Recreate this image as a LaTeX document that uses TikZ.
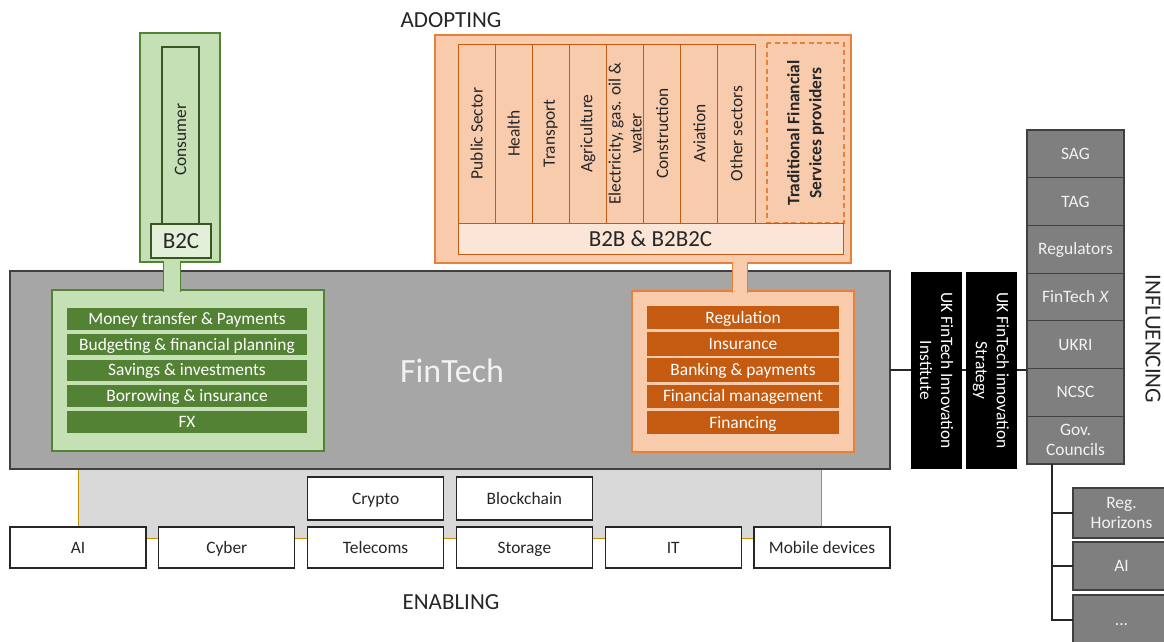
\documentclass[tikz,border=0pt]{standalone}
\usepackage{fontspec}
\setmainfont{Carlito}
\usetikzlibrary{positioning}

\definecolor{ftgray}{HTML}{A6A6A6}
\definecolor{platgray}{HTML}{D9D9D9}
\definecolor{cellgray}{HTML}{7F7F7F}
\definecolor{edgegray}{HTML}{404040}
\definecolor{platgold}{HTML}{BF9000}
\definecolor{lightgreen}{HTML}{C5E0B4}
\definecolor{palegreen}{HTML}{E2F0D9}
\definecolor{darkgreen}{HTML}{548235}
\definecolor{deepgreen}{HTML}{385723}
\definecolor{lightorange}{HTML}{F8CBAD}
\definecolor{paleorange}{HTML}{FBE5D6}
\definecolor{midorange}{HTML}{E9803A}
\definecolor{darkorange}{HTML}{C55A11}

\tikzset{
    box/.style={rectangle, inner sep=0pt, outer sep=0pt, anchor=north west,
        line width=1.2pt, text=black!85, font=\fontsize{17.4}{21}\selectfont},
    even/.style={text height=12pt, text depth=1pt},
    retailrow/.style={box, even, fill=darkgreen, text=white, minimum width=240, minimum height=21.6},
    service/.style={box, even, fill=darkorange, text=white, minimum width=192, minimum height=23.4},
    sector/.style={box, anchor=center, rotate=90, align=center, fill=lightorange,
        draw=darkorange, line width=1pt, minimum width=179, minimum height=37.125},
    cell/.style={box, even, fill=cellgray, draw=edgegray, text=white!95!black, align=center,
        minimum width=97, minimum height=47.7},
    twoline/.style={text height={}, text depth={}, font=\fontsize{17.4}{20}\selectfont},
    enabler/.style={box, even, fill=white, draw=black!85, minimum width=136, minimum height=41},
    body/.style={box, anchor=center, rotate=-90, align=center, fill=black, text=white,
        minimum width=197, minimum height=51},
    stem/.style={double distance=#1, line width=1.2pt, shorten <=-1.5pt, shorten >=-1.5pt},
    link/.style={draw=black!85, line width=1.2pt},
    heading/.style={text=black!85, font=\fontsize{23}{27}\selectfont}
}

\begin{document}
\begin{tikzpicture}[x=1pt, y=-1pt]
    \useasboundingbox (0,0) rectangle (1164,641);

    % enabling platform and the FinTech block
    \node[box, fill=platgray, draw=platgold, line width=1pt, minimum width=743, minimum height=70] (platform) at (78,468) {};
    \node[box, fill=ftgray, draw=edgegray, minimum width=880, minimum height=198] (fintech) at (10,271) {};
    \node[text=white!95!black, font=\fontsize{34}{40}\selectfont] (ftlabel) at (452,371) {FinTech};

    % consumer side
    \node[box, fill=lightgreen, draw=darkgreen, minimum width=80, minimum height=229] (b2cframe) at (140,33) {};
    \node[box, anchor=center, rotate=90, fill=lightgreen, draw=deepgreen, minimum width=185, minimum height=37] (consumer) at (180.5,139.5) {Consumer};
    \node[box, fill=palegreen, draw=deepgreen, minimum width=60, minimum height=34, font=\fontsize{23}{27}\selectfont] (b2c) at (151,224) {B2C};
    \node[box, fill=lightgreen, draw=darkgreen, minimum width=272, minimum height=161] (retail) at (52,290) {};
    \node[retailrow] (money) at (67,308) {Money transfer \& Payments};
    \node[retailrow, below=4.2pt of money] (budget) {Budgeting \& financial planning};
    \node[retailrow, below=4.2pt of budget] (savings) {Savings \& investments};
    \node[retailrow, below=4.2pt of savings] (borrow) {Borrowing \& insurance};
    \node[retailrow, below=4.2pt of borrow] (fx) {FX};
    \coordinate (gstem) at (172,0);
    \draw[stem=16pt, draw=darkgreen, double=lightgreen] (b2cframe.south -| gstem) -- (retail.north -| gstem);

    % business side
    \node[box, fill=lightorange, draw=midorange, minimum width=416, minimum height=228] (adopt) at (435,35) {};
    \node[sector] (public) at (476.56,133.5) {Public Sector};
    \node[sector] (health) at (513.69,133.5) {Health};
    \node[sector] (transport) at (550.81,133.5) {Transport};
    \node[sector] (agri) at (587.94,133.5) {Agriculture};
    \node[sector] (utility) at (625.06,133.5) {Electricity, gas. oil \&\\water};
    \node[sector] (build) at (662.19,133.5) {Construction};
    \node[sector] (aviation) at (699.31,133.5) {Aviation};
    \node[sector] (other) at (736.44,133.5) {Other sectors};
    \node[sector, draw=midorange, line width=1.4pt, dash pattern=on 5pt off 3.5pt, minimum width=180, minimum height=77,
        font=\fontsize{17.4}{22}\bfseries] (tradfs) at (805.5,133) {Traditional Financial\\Services providers};
    \node[box, fill=paleorange, draw=darkorange, line width=1pt, minimum width=385, minimum height=31, font=\fontsize{23}{27}\selectfont] (b2b) at (458,223) {B2B \& B2B2C};
    \node[box, fill=lightorange, draw=midorange, minimum width=222, minimum height=161] (corporate) at (632,291) {};
    \node[service] (regulation) at (647,306) {Regulation};
    \node[service, below=2.8pt of regulation] (insurance) {Insurance};
    \node[service, below=2.8pt of insurance] (banking) {Banking \& payments};
    \node[service, below=2.8pt of banking] (finman) {Financial management};
    \node[service, below=2.8pt of finman] (financing) {Financing};
    \coordinate (ostem) at (740,0);
    \draw[stem=14pt, draw=midorange, double=lightorange] (adopt.south -| ostem) -- (corporate.north -| ostem);

    % influencing bodies
    \node[cell] (sag) at (1027,130) {SAG};
    \node[cell, below=0pt of sag] (tag) {TAG};
    \node[cell, below=0pt of tag] (regulators) {Regulators};
    \node[cell, below=0pt of regulators] (ftx) {FinTech \textit{X}};
    \node[cell, below=0pt of ftx] (ukri) {UKRI};
    \node[cell, below=0pt of ukri] (ncsc) {NCSC};
    \node[cell, twoline, below=0pt of ncsc] (councils) {Gov.\\Councils};
    \draw[link] (fintech.east) -- (fintech.east -| ukri.west);
    \node[body] (institute) at (936.5,370.5) {UK FinTech Innovation\\Institute};
    \node[body] (strategy) at (991,370.5) {UK FinTech innovation\\Strategy};

    \node[cell, twoline, minimum height=50] (horizons) at (1073,488) {Reg.\\Horizons};
    \node[cell, minimum height=48] (aicouncil) at (1073,542) {AI};
    \node[cell, minimum height=50] (more) at (1073,595) {...};
    \coordinate (trunk) at (1052,0);
    \draw[link] (councils.south -| trunk) |- (more.west);
    \draw[link] (trunk |- horizons.west) -- (horizons.west);
    \draw[link] (trunk |- aicouncil.west) -- (aicouncil.west);

    % enabling technologies
    \node[enabler] (ai) at (10,527) {AI};
    \node[enabler, right=12.8pt of ai] (cyber) {Cyber};
    \node[enabler, right=12.8pt of cyber] (telecoms) {Telecoms};
    \node[enabler, right=12.8pt of telecoms] (storage) {Storage};
    \node[enabler, right=12.8pt of storage] (it) {IT};
    \node[enabler, right=12.8pt of it] (mobile) {Mobile devices};
    \node[enabler, above=7pt of telecoms, minimum height=43] (crypto) {Crypto};
    \node[enabler, above=7pt of storage, minimum height=43] (blockchain) {Blockchain};

    % section headings
    \node[heading] (adopting) at (451,20) {ADOPTING};
    \node[heading] (enabling) at (451,602) {ENABLING};
    \node[heading, rotate=-90] (influencing) at (1153,339) {INFLUENCING};
\end{tikzpicture}
\end{document}
